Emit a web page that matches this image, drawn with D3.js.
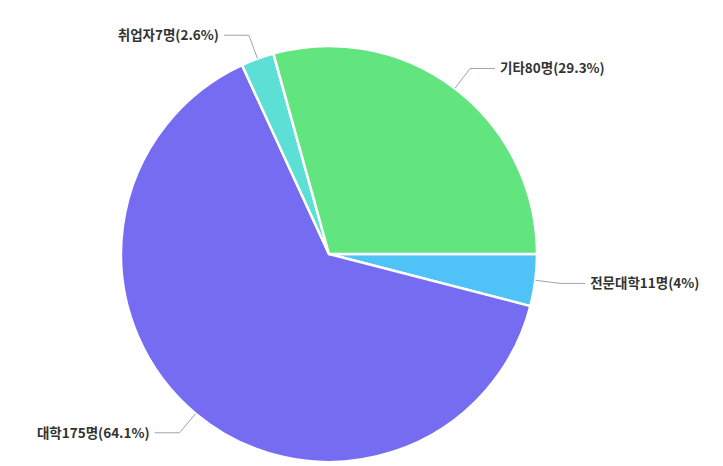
<!DOCTYPE html>
<html><head><meta charset="utf-8">
<script src="https://cdn.jsdelivr.net/npm/d3@7"></script>
<style>body{margin:0;background:#fff}svg{display:block}</style>
</head><body>
<svg id="c" width="723" height="466"></svg>
<script>
const categories = ["전문대학", "대학", "취업자", "기타"];
const values = [11, 175, 7, 80];
const percentLabels = ["4%", "64.1%", "2.6%", "29.3%"];
const colors = ["#4fc3f7", "#766cf2", "#5ce0d5", "#62e47f"];

const svg = d3.select("#c");
const cx = 329, cy = 254, R = 208;
const g = svg.append("g").attr("transform", `translate(${cx},${cy})`);
const data = categories.map((c, i) => ({ c, v: values[i], p: percentLabels[i], col: colors[i] }));
const pie = d3.pie().value(d => d.v).sort(null).startAngle(Math.PI / 2).endAngle(Math.PI / 2 + 2 * Math.PI);
const arc = d3.arc().innerRadius(0).outerRadius(R);
const arcs = pie(data);
g.selectAll("path.s").data(arcs).join("path").attr("class", "s")
  .attr("d", arc).attr("fill", d => d.data.col).attr("stroke", "#fff").attr("stroke-width", 2.5).attr("stroke-linejoin", "round");

const len1 = 25, len2 = 25;
arcs.forEach(a => {
  const m = (a.startAngle + a.endAngle) / 2;
  const sx = Math.sin(m), sy = -Math.cos(m);
  const p0 = [sx * R, sy * R];
  const p1 = [sx * (R + len1), sy * (R + len1)];
  const dir = sx >= 0 ? 1 : -1;
  const p2 = [p1[0] + dir * len2, p1[1]];
  g.append("polyline").attr("points", [p0, p1, p2].map(p => p.join(",")).join(" "))
    .attr("fill", "none").attr("stroke", "#9aa5b1").attr("stroke-width", 1);
  g.append("text").attr("x", p2[0] + dir * 5).attr("y", p2[1]).attr("dy", "0.35em")
    .attr("text-anchor", dir > 0 ? "start" : "end")
    .attr("font-family", "'Noto Sans CJK KR', 'Noto Sans', sans-serif").attr("font-size", 13.5).attr("font-weight", "bold")
    .attr("fill", "#333").text(`${a.data.c}${a.data.v}명(${a.data.p})`);
});
</script>
</body></html>
